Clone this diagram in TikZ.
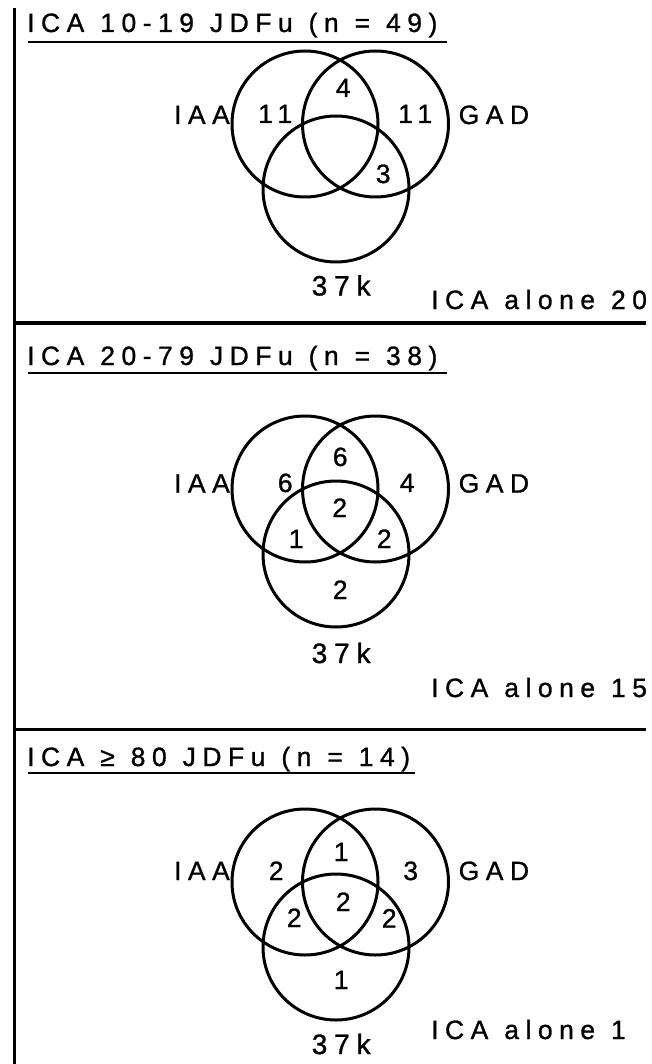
\documentclass[tikz,border=0pt]{standalone}
\usepackage{fontspec}
\setmainfont{Liberation Sans}
\newfontfamily\spacedsans[LetterSpace=24.5,WordSpace=1.15,FakeBold=1]{Liberation Sans}
\tikzset{
  venn/.style={circle, draw, line width=3pt, minimum size=146pt, inner sep=0pt, outer sep=0pt},
  txt/.style={font={\spacedsans\fontsize{26.5}{30}\selectfont}, inner sep=0pt, anchor=base, xshift=3.2pt},
  big/.style={txt, font={\spacedsans\fontsize{28}{32}\selectfont}},
  ttl/.style={font={\spacedsans\fontsize{26.5}{30}\selectfont}, inner sep=0pt, anchor=base west},
  lefttag/.style={ttl, anchor=base east},
  rulebar/.style={line width=3.5pt},
  uline/.style={line width=1.8pt}
}
\begin{document}
\begin{tikzpicture}[x=1pt,y=-1pt]
\useasboundingbox (0,0) rectangle (651,1064);
% frame lines
\coordinate (vtop) at (14.5,8);
\coordinate (vbot) at (14.5,1064);
\coordinate (s1a) at (13,323);
\coordinate (s1b) at (646,323);
\coordinate (s2a) at (13,729.5);
\coordinate (s2b) at (646,729.5);
\draw[rulebar] (vtop) -- (vbot);
\draw[rulebar] (s1a) -- (s1b);
\draw[rulebar] (s2a) -- (s2b);

% ---------------- panel 1
\node[ttl] (t1) at (27,32) {ICA 10-19 JDFu (n = 49)};
\coordinate (u1a) at (28,42);
\coordinate (u1b) at (447,42);
\draw[uline] (u1a) -- (u1b);
\node[venn] (iaa1) at (305,124) {};
\node[venn] (gad1) at (375.5,124) {};
\node[venn] (k1) at (336,189) {};
\node[lefttag] (liaa1) at (230,124) {IAA};
\node[ttl] (lgad1) at (458.5,124) {GAD};
\node[big] (lk1) at (338,295.5) {37k};
\node[ttl] (al1) at (431,309) {ICA alone 20};
\node[txt] (n1a) at (272,123) {11};
\node[txt] (n1b) at (340,97) {4};
\node[txt] (n1c) at (412,123) {11};
\node[txt] (n1d) at (380,183) {3};

% ---------------- panel 2
\node[ttl] (t2) at (27,365) {ICA 20-79 JDFu (n = 38)};
\coordinate (u2a) at (28,373);
\coordinate (u2b) at (447,373);
\draw[uline] (u2a) -- (u2b);
\node[venn] (iaa2) at (305,489) {};
\node[venn] (gad2) at (375.5,489) {};
\node[venn] (k2) at (336,554) {};
\node[lefttag] (liaa2) at (230,492.5) {IAA};
\node[ttl] (lgad2) at (458.5,492.5) {GAD};
\node[big] (lk2) at (338,663) {37k};
\node[ttl] (al2) at (431,697) {ICA alone 15};
\node[txt] (n2a) at (282,492) {6};
\node[txt] (n2b) at (337,466) {6};
\node[txt] (n2c) at (404,492) {4};
\node[txt] (n2d) at (336.5,517) {2};
\node[txt] (n2e) at (293,548) {1};
\node[txt] (n2f) at (381,548) {2};
\node[txt] (n2g) at (337,599) {2};

% ---------------- panel 3
\node[ttl] (t3) at (27,766) {ICA ≥ 80 JDFu (n = 14)};
\coordinate (u3a) at (28,773);
\coordinate (u3b) at (415,773);
\draw[uline] (u3a) -- (u3b);
\node[venn] (iaa3) at (305,882) {};
\node[venn] (gad3) at (375.5,882) {};
\node[venn] (k3) at (336,947) {};
\node[lefttag] (liaa3) at (230,880) {IAA};
\node[ttl] (lgad3) at (458.5,880) {GAD};
\node[big] (lk3) at (338,1054) {37k};
\node[ttl] (al3) at (431,1039) {ICA alone 1};
\node[txt] (n3a) at (273,880) {2};
\node[txt] (n3b) at (338,861) {1};
\node[txt] (n3c) at (407.5,880) {3};
\node[txt] (n3d) at (340,911) {2};
\node[txt] (n3e) at (291,927) {2};
\node[txt] (n3f) at (386,927.5) {2};
\node[txt] (n3g) at (338,989) {1};
\end{tikzpicture}
\end{document}
